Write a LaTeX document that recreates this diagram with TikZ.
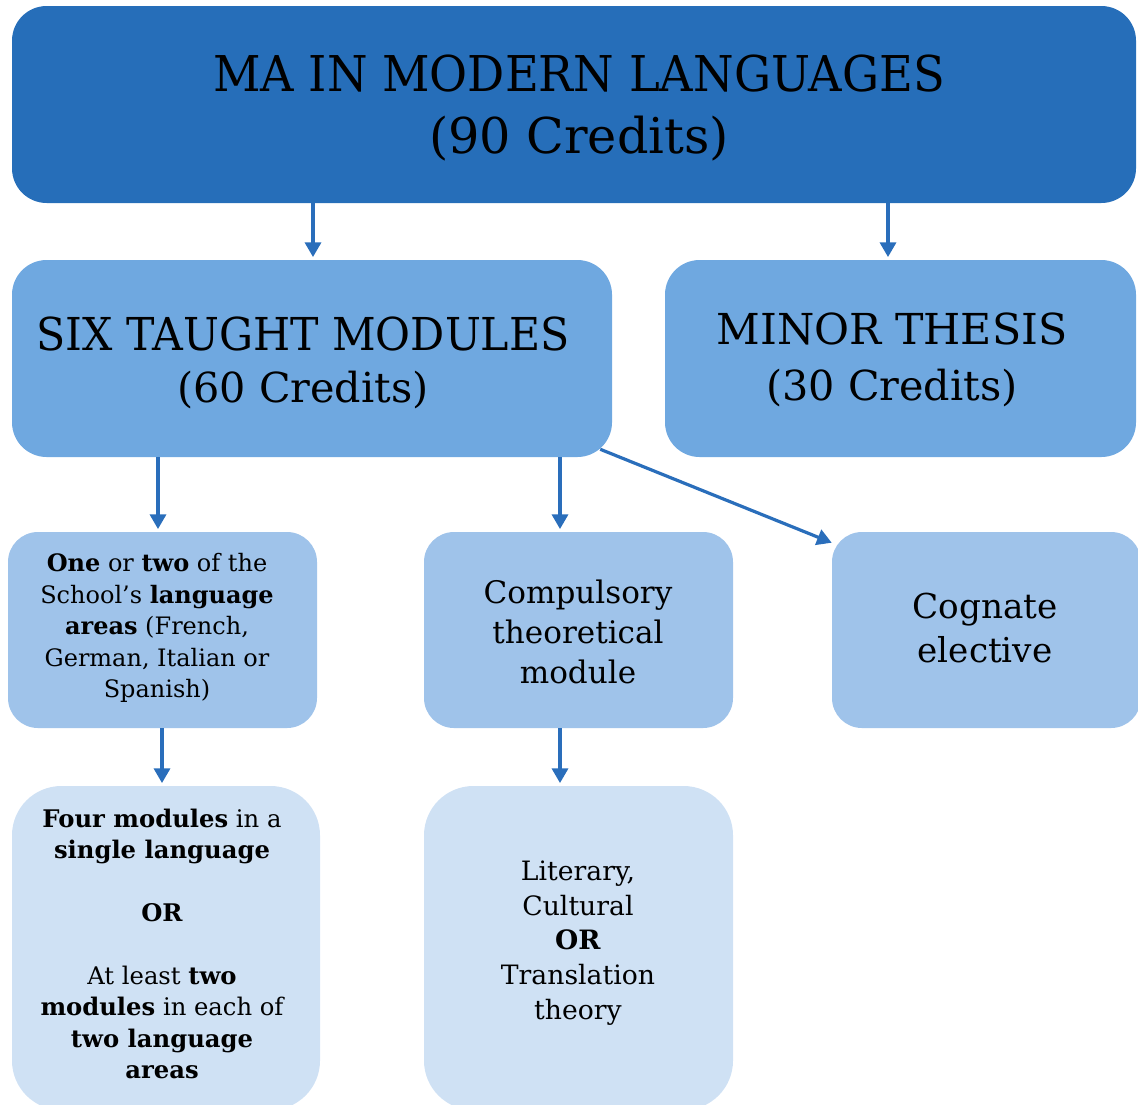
\documentclass[tikz,border=0pt]{standalone}
\usepackage{fontspec}
\setmainfont{DejaVu Serif}
\newfontfamily\capsfont{DejaVu Serif}[FakeStretch=0.94]
\usetikzlibrary{arrows.meta,calc}
\definecolor{cA}{RGB}{38,110,185}
\definecolor{cB}{RGB}{111,168,224}
\definecolor{cC}{RGB}{159,195,234}
\definecolor{cD}{RGB}{207,225,244}
\definecolor{cArr}{RGB}{42,110,187}
\tikzset{
  box/.style={rectangle, draw=none, inner sep=0pt},
  txt/.style={align=center, inner sep=0pt, text=black},
  arr/.style={draw=cArr, line width=2.4pt, -{Triangle[width=12pt,length=11pt]}, shorten >=2pt},
}
\begin{document}
\begin{tikzpicture}[x=0.75pt,y=-0.75pt]
\useasboundingbox (0,0) rectangle (1138,1104);
\clip (0,0) rectangle (1138,1104);
% boxes
\node[box, fill=cA, rounded corners=26pt, minimum width=843pt, minimum height=147.75pt] (top) at (574,104.5) {};
\node[box, fill=cB, rounded corners=26pt, minimum width=450pt, minimum height=147.75pt] (six) at (312,358.5) {};
\node[box, fill=cB, rounded corners=26pt, minimum width=353.25pt, minimum height=147.75pt] (minor) at (900.5,358.5) {};
\node[box, fill=cC, rounded corners=22.5pt, minimum width=231.75pt, minimum height=147pt] (one) at (162.5,630) {};
\node[box, fill=cC, rounded corners=22.5pt, minimum width=231.75pt, minimum height=147pt] (comp) at (578.5,630) {};
\node[box, fill=cC, rounded corners=22.5pt, minimum width=231.75pt, minimum height=147pt] (cog) at (986.5,630) {};
\node[box, fill=cD, rounded corners=37pt, minimum width=231pt, minimum height=243pt] (four) at (166,948) {};
\node[box, fill=cD, rounded corners=37pt, minimum width=231.75pt, minimum height=243pt] (lit) at (578.5,948) {};
% texts
\node[txt, font=\fontsize{37}{47}\selectfont] (topt) at (579,108) {{\capsfont MA IN MODERN LANGUAGES}\\(90 Credits)};
\node[txt, font=\fontsize{34}{38.5}\selectfont] (sixt) at (303,363) {{\capsfont SIX TAUGHT MODULES}\\{\fontsize{31}{38}\selectfont (60 Credits)}};
\node[txt, font=\fontsize{32}{41.5}\selectfont] (minort) at (892,360) {MINOR THESIS\\{\fontsize{31}{41}\selectfont (30 Credits)}};
\node[txt, font=\fontsize{18}{23.6}\selectfont] (onet) at (157,628) {\textbf{One} or \textbf{two} of the\\School’s \textbf{language}\\\textbf{areas} (French,\\German, Italian or\\Spanish)};
\node[txt, font=\fontsize{23.3}{30.3}\selectfont] (compt) at (578,632) {Compulsory\\theoretical\\module};
\node[txt, font=\fontsize{25.7}{33}\selectfont] (cogt) at (985,628) {Cognate\\elective};
\node[txt, font=\fontsize{18.2}{23.6}\selectfont] (fourt) at (162,944) {\textbf{Four modules} in a\\\textbf{single language}\\\strut\\\textbf{OR}\\\strut\\At least \textbf{two}\\\textbf{modules} in each of\\\textbf{two language}\\\textbf{areas}};
\node[txt, font=\fontsize{20}{26}\selectfont] (litt) at (578,943) {Literary,\\Cultural\\\textbf{OR}\\Translation\\theory};
% arrows
\draw[arr] (top.south -| 313,0) -- (six.north -| 313,0);
\draw[arr] (top.south -| 888,0) -- (minor.north -| 888,0);
\draw[arr] (six.south -| 158,0) -- (one.north -| 158,0);
\draw[arr] (six.south -| 560,0) -- (comp.north -| 560,0);
\draw[arr, shorten >=0pt] ($(six.south east)+(-12,-8)$) -- ($(cog.north west)+(0,11)$);
\draw[arr] (one.south -| 162,0) -- (four.north -| 162,0);
\draw[arr] (comp.south -| 560,0) -- (lit.north -| 560,0);
\end{tikzpicture}
\end{document}
